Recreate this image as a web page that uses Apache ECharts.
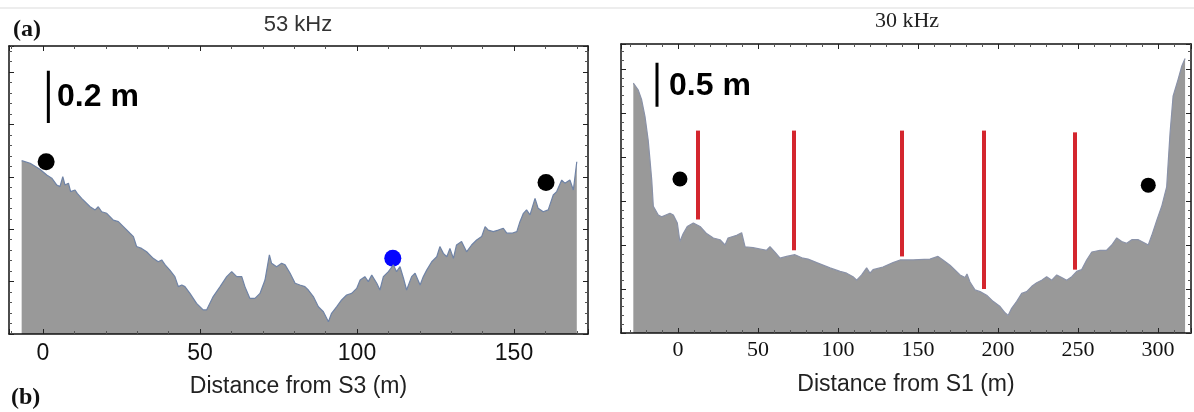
<!DOCTYPE html>
<html>
<head>
<meta charset="utf-8">
<style>
html,body{margin:0;padding:0;background:#fff;}
#chart{width:1194px;height:412px;}
</style>
<script src="https://cdn.jsdelivr.net/npm/echarts@6/dist/echarts.min.js"></script>
</head>
<body>
<div id="chart"></div>
<script>
// ---------- DATA ----------
// Panel (a) 53 kHz: distance from S3 (m) vs relative bed height (m)
const leftDist = [-6.8,-4.1,-1.0,1.2,2.8,4.4,5.4,6.3,7.0,8.1,8.8,10.2,10.9,12.3,15.0,16.6,17.6,18.7,20.3,22.4,24.0,25.6,27.7,28.8,29.8,31.4,33.0,35.1,36.7,37.8,38.9,40.4,42.0,43.1,44.2,45.2,46.8,48.9,51.0,52.1,54.2,56.4,58.5,60.1,61.7,63.3,64.3,65.9,67.5,69.1,70.7,72.1,72.8,74.4,76.0,77.1,78.7,80.3,81.8,83.4,84.5,86.1,87.7,89.3,90.9,91.9,93.5,95.1,96.7,98.3,99.9,101.0,102.5,103.6,104.7,106.3,107.3,108.4,110.0,111.6,112.6,113.7,114.8,115.8,117.4,118.5,120.1,121.1,122.2,123.8,125.4,126.4,127.5,128.6,129.6,130.7,131.7,133.3,134.9,136.5,138.1,139.7,140.8,141.8,143.4,145.0,146.6,147.7,149.3,150.9,151.9,153.0,154.0,155.1,156.7,157.7,159.3,160.9,162.5,163.6,165.2,166.2,167.8,168.9,170.0];
const leftDepth = [0.662,0.652,0.629,0.607,0.595,0.569,0.563,0.601,0.569,0.576,0.544,0.550,0.537,0.518,0.486,0.474,0.486,0.467,0.461,0.435,0.429,0.410,0.385,0.372,0.334,0.327,0.314,0.289,0.276,0.283,0.264,0.244,0.219,0.181,0.187,0.181,0.155,0.117,0.092,0.092,0.143,0.181,0.219,0.238,0.219,0.219,0.181,0.136,0.136,0.155,0.206,0.302,0.270,0.257,0.270,0.264,0.232,0.194,0.187,0.181,0.168,0.143,0.104,0.085,0.047,0.079,0.104,0.130,0.149,0.155,0.174,0.206,0.219,0.200,0.225,0.194,0.168,0.219,0.238,0.264,0.238,0.257,0.213,0.168,0.219,0.232,0.187,0.219,0.244,0.276,0.295,0.334,0.308,0.295,0.327,0.289,0.340,0.353,0.314,0.340,0.359,0.372,0.410,0.397,0.391,0.397,0.404,0.385,0.385,0.391,0.429,0.461,0.474,0.455,0.518,0.480,0.467,0.474,0.531,0.544,0.588,0.576,0.588,0.550,0.658];
const leftBlackDots = [[1.0,0.658],[160.2,0.579]];
const leftBlueDots = [[111.4,0.289]];
const leftScaleBar = [[1.7,0.806],[1.7,1.005]];
const leftTicks = ['0','50','100','150'];

// Panel (b) 30 kHz: distance from S1 (m) vs relative bed height (m)
const rightDist = [-27.9,-24.8,-22.7,-20.6,-18.6,-17.5,-16.4,-15.4,-12.3,-10.2,-5.0,-2.9,-0.4,1.2,3.3,5.8,9.6,13.8,17.9,22.1,26.3,29.4,31.3,36.7,39.8,41.9,46.9,55.4,57.5,60.6,63.8,67.9,73.1,78.1,81.3,86.7,95.0,101.3,105.4,109.4,111.7,114.8,117.9,120.0,121.9,128.1,134.4,138.8,146.9,157.5,162.5,165.6,170.0,176.3,179.4,180.6,182.5,185.6,188.8,192.9,196.9,201.3,204.4,206.3,208.5,211.7,214.8,217.9,221.1,224.2,227.3,230.4,233.6,236.7,239.8,242.9,246.1,249.2,252.3,255.4,258.6,263.8,267.9,271.1,274.2,277.3,280.4,283.6,287.7,291.9,293.9,296.1,299.2,302.3,304.4,305.4,307.5,309.4,312.5,314.8,316.9];
const rightDepth = [2.84,2.76,2.65,2.46,2.19,1.97,1.74,1.44,1.34,1.32,1.36,1.34,1.25,1.04,1.13,1.21,1.25,1.21,1.13,1.08,1.06,1.00,1.08,1.11,1.14,0.98,0.97,0.94,0.98,0.92,0.85,0.87,0.89,0.85,0.84,0.80,0.74,0.70,0.68,0.64,0.60,0.66,0.74,0.68,0.72,0.75,0.80,0.83,0.83,0.84,0.87,0.83,0.77,0.66,0.63,0.67,0.58,0.49,0.47,0.43,0.36,0.30,0.23,0.20,0.28,0.36,0.45,0.47,0.53,0.57,0.60,0.64,0.60,0.66,0.63,0.60,0.64,0.70,0.72,0.83,0.92,0.94,0.94,1.00,1.08,1.04,1.02,1.06,1.06,1.02,1.00,1.11,1.28,1.44,1.59,1.66,2.27,2.69,2.88,3.03,3.12];
const rightBlackDots = [[1.25,1.75],[293.9,1.68]];
const redLineX = [12.3,72.1,139.8,191.0,248.1];
const redLineTop = [2.30,2.30,2.30,2.30,2.28];
const redLineBottom = [1.29,0.94,0.87,0.50,0.72];
const rightScaleBar = [[-13.1,2.57],[-13.1,3.07]];
const rightTicks = ['0','50','100','150','200','250','300'];

// ---------- CHART ----------
const zip = (a, b) => a.map((v, i) => [v, b[i]]);
const sans = 'Liberation Sans, Arial, sans-serif';
const serif = 'Liberation Serif, Times New Roman, serif';
const frame = {show: true, onZero: false, lineStyle: {color: '#111', width: 1.5}};

function xAxes(gi, min, max, ticks, font, margin, name, nameGap) {
  const common = {
    type: 'value', gridIndex: gi, min: min, max: max, z: 5,
    minInterval: 50, maxInterval: 50,
    splitLine: {show: false}, axisLine: frame,
    axisTick: {show: true, inside: true, length: 5, lineStyle: {color: '#222', width: 1}},
    minorTick: {show: true, splitNumber: 5, length: 3, lineStyle: {color: '#555', width: 1}}
  };
  return [
    Object.assign({}, common, {
      position: 'bottom',
      name: name, nameLocation: 'middle', nameGap: nameGap,
      nameTextStyle: {fontFamily: sans, fontSize: 23, color: '#222'},
      axisLabel: {
        show: true, margin: margin, fontFamily: font, fontSize: font === serif ? 22 : 23, color: '#111',
        showMinLabel: false, showMaxLabel: false,
        formatter: v => ticks.indexOf(String(Math.round(v))) >= 0 && Math.abs(v - Math.round(v)) < 1e-6 ? String(Math.round(v)) : ''
      }
    }),
    Object.assign({}, common, {position: 'top', axisLabel: {show: false}})
  ];
}
function yAxes(gi, max, interval) {
  const common = {
    type: 'value', gridIndex: gi, min: 0, max: max, interval: interval, z: 5,
    splitLine: {show: false}, axisLine: frame, axisLabel: {show: false},
    axisTick: {show: true, inside: true, length: 5, lineStyle: {color: '#222', width: 1}},
    minorTick: {show: true, splitNumber: 5, length: 3, lineStyle: {color: '#555', width: 1}}
  };
  return [
    Object.assign({}, common, {position: 'left'}),
    Object.assign({}, common, {position: 'right'})
  ];
}

const redLines = redLineX.map((x, i) => [{coord: [x, redLineTop[i]]}, {coord: [x, redLineBottom[i]]}]);

const option = {
  animation: false,
  backgroundColor: '#ffffff',
  grid: [
    {left: 9, right: 606, top: 46, bottom: 78},
    {left: 621, right: 3, top: 44, bottom: 79}
  ],
  xAxis: [].concat(
    xAxes(0, -10.83, 173.57, leftTicks, sans, 8, 'Distance from S3 (m)', 41),
    xAxes(1, -35.6, 320.6, rightTicks, serif, 6, 'Distance from S1 (m)', 40)
  ),
  yAxis: [].concat(yAxes(0, 1.1, 0.2), yAxes(1, 3.284, 0.5)),
  series: [
    {
      type: 'line', xAxisIndex: 0, yAxisIndex: 0, data: zip(leftDist, leftDepth),
      showSymbol: false, symbol: 'none',
      lineStyle: {color: '#6f83a6', width: 1.2},
      areaStyle: {color: '#999999', opacity: 1}
    },
    {
      type: 'line', xAxisIndex: 0, yAxisIndex: 0, data: leftScaleBar,
      symbol: 'none', lineStyle: {color: '#000', width: 3}
    },
    {
      type: 'scatter', xAxisIndex: 0, yAxisIndex: 0, data: leftBlackDots,
      symbolSize: 17, itemStyle: {color: '#000', opacity: 1}
    },
    {
      type: 'scatter', xAxisIndex: 0, yAxisIndex: 0, data: leftBlueDots,
      symbolSize: 17, itemStyle: {color: '#0505ff', opacity: 1}
    },
    {
      type: 'line', xAxisIndex: 2, yAxisIndex: 2, data: zip(rightDist, rightDepth),
      showSymbol: false, symbol: 'none',
      lineStyle: {color: '#8a92a8', width: 1.2},
      areaStyle: {color: '#999999', opacity: 1},
      markLine: {
        silent: true, symbol: ['none', 'none'], label: {show: false},
        lineStyle: {color: '#d4262e', width: 4, type: 'solid'},
        data: redLines
      }
    },
    {
      type: 'line', xAxisIndex: 2, yAxisIndex: 2, data: rightScaleBar,
      symbol: 'none', lineStyle: {color: '#000', width: 3}
    },
    {
      type: 'scatter', xAxisIndex: 2, yAxisIndex: 2, data: rightBlackDots,
      symbolSize: 15, itemStyle: {color: '#000', opacity: 1}
    }
  ],
  graphic: [
    {type: 'line', shape: {x1: 0, y1: 8, x2: 1194, y2: 8}, style: {stroke: '#ededed', lineWidth: 2}},
    {type: 'text', left: 13, top: 18, style: {text: '(a)', font: 'bold 24px ' + serif, fill: '#111'}},
    {type: 'text', left: 11, top: 386, style: {text: '(b)', font: 'bold 24px ' + serif, fill: '#111'}},
    {type: 'text', x: 298, y: 25, style: {text: '53 kHz', font: '22px ' + sans, fill: '#333', align: 'center', verticalAlign: 'middle'}},
    {type: 'text', x: 907, y: 21, style: {text: '30 kHz', font: '22px ' + serif, fill: '#222', align: 'center', verticalAlign: 'middle'}},
    {type: 'text', x: 57, y: 97, style: {text: '0.2 m', font: 'bold 32px ' + sans, fill: '#000', verticalAlign: 'middle'}},
    {type: 'text', x: 669, y: 86, style: {text: '0.5 m', font: 'bold 32px ' + sans, fill: '#000', verticalAlign: 'middle'}}
  ]
};

const chart = echarts.init(document.getElementById('chart'), null, {renderer: 'canvas'});
chart.setOption(option);
</script>
</body>
</html>
